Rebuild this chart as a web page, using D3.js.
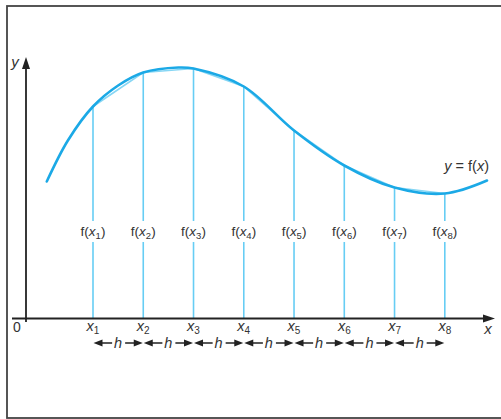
<!DOCTYPE html>
<html>
<head>
<meta charset="utf-8">
<script src="https://cdn.jsdelivr.net/npm/d3@7"></script>
<style>
  body { margin:0; background:#fff; }
  svg text { font-family: "Liberation Sans", Arial, sans-serif; fill:#333; }
</style>
</head>
<body>
<script>
const width = 501;
const height = 419;

// ordinates x1..x8 (in units of h) and the curve f(x)
const knots = [1, 2, 3, 4, 5, 6, 7, 8];
const knotValues = [21.2, 24.6, 25.0, 23.2, 18.8, 15.3, 13.1, 12.5];
const curveX = [0.08, 0.5, 1, 1.5, 2, 2.7, 3, 4, 5, 6, 7, 8, 8.84];
const curveY = [13.7, 17.8, 21.2, 23.3, 24.6, 25.1, 25.0, 23.2, 18.8, 15.3, 13.1, 12.5, 13.8];

const svg = d3.select('body').append('svg')
  .attr('width', width)
  .attr('height', height);

// frame
svg.append('rect')
  .attr('x', 7).attr('y', 6)
  .attr('width', 520).attr('height', 412)
  .attr('fill', 'none').attr('stroke', '#444').attr('stroke-width', 1.8);

const x = d3.scaleLinear().domain([1, 8]).range([93, 444.8]);
const y = d3.scaleLinear().domain([0, 26]).range([318.5, 58.5]);

const axisX0 = 26;
const axisY0 = y(0);

// vertical ordinates
svg.selectAll('line.ord').data(knots)
  .enter().append('line')
  .attr('class', 'ord')
  .attr('x1', d => x(d)).attr('x2', d => x(d))
  .attr('y1', axisY0).attr('y2', (d, i) => y(knotValues[i]))
  .attr('stroke', '#66cdf4').attr('stroke-width', 1.6);

// chords
svg.append('path')
  .datum(knots)
  .attr('d', d3.line().x(d => x(d)).y((d, i) => y(knotValues[i])))
  .attr('fill', 'none').attr('stroke', '#86d6f4').attr('stroke-width', 1.6);

// curve
svg.append('path')
  .datum(curveX)
  .attr('d', d3.line().x(d => x(d)).y((d, i) => y(curveY[i])).curve(d3.curveCatmullRom.alpha(0.5)))
  .attr('fill', 'none').attr('stroke', '#1ba9e6').attr('stroke-width', 2.6)
  .attr('stroke-linecap', 'round');

// axes
svg.append('line')
  .attr('x1', 12).attr('x2', 486)
  .attr('y1', axisY0).attr('y2', axisY0)
  .attr('stroke', '#222').attr('stroke-width', 1.8);
svg.append('path')
  .attr('d', `M495,${axisY0} L483,${axisY0 - 4} L483,${axisY0 + 4} Z`)
  .attr('fill', '#222');
svg.append('line')
  .attr('x1', axisX0).attr('x2', axisX0)
  .attr('y1', 322).attr('y2', 66)
  .attr('stroke', '#222').attr('stroke-width', 1.8);
svg.append('path')
  .attr('d', `M${axisX0},57 L${axisX0 - 4},69 L${axisX0 + 4},69 Z`)
  .attr('fill', '#222');

svg.append('text').text('0')
  .attr('x', 17).attr('y', 332).attr('text-anchor', 'middle').attr('font-size', 14);
svg.append('text').text('x')
  .attr('x', 488).attr('y', 334).attr('text-anchor', 'middle')
  .attr('font-size', 15).attr('font-style', 'italic');
svg.append('text').text('y')
  .attr('x', 15).attr('y', 67).attr('text-anchor', 'middle')
  .attr('font-size', 15).attr('font-style', 'italic');

// y = f(x) label
const lab = svg.append('text')
  .attr('x', 489).attr('y', 171).attr('text-anchor', 'end').attr('font-size', 14.5);
lab.append('tspan').text('y').attr('font-style', 'italic');
lab.append('tspan').text(' = f(');
lab.append('tspan').text('x').attr('font-style', 'italic');
lab.append('tspan').text(')');

// f(xi) labels with white backing
const fl = svg.selectAll('g.flab').data(knots)
  .enter().append('g')
  .attr('class', 'flab')
  .attr('transform', d => `translate(${x(d)},0)`);
fl.append('rect')
  .attr('x', -16).attr('y', 221).attr('width', 32).attr('height', 21)
  .attr('fill', '#fff');
const ft = fl.append('text')
  .attr('y', 235.5).attr('text-anchor', 'middle').attr('font-size', 13.5);
ft.append('tspan').text('f(');
ft.append('tspan').text('x').attr('font-style', 'italic');
ft.append('tspan').text(d => d).attr('font-size', 9.5).attr('dy', 3);
ft.append('tspan').text(')').attr('dy', -3);

// xi labels
const xt = svg.selectAll('text.xlab').data(knots)
  .enter().append('text')
  .attr('class', 'xlab')
  .attr('x', d => x(d)).attr('y', 331)
  .attr('text-anchor', 'middle').attr('font-size', 14.5);
xt.append('tspan').text('x').attr('font-style', 'italic');
xt.append('tspan').text(d => d).attr('font-size', 10).attr('dy', 3);

// h spacing arrows
const hy = 343;
const gaps = knots.slice(0, -1);
const hg = svg.selectAll('g.h').data(gaps)
  .enter().append('g').attr('class', 'h');
hg.append('path')
  .attr('d', d => {
    const a = x(d), b = x(d + 1), m = (a + b) / 2;
    return `M${a + 8},${hy} L${m - 6},${hy} M${m + 7},${hy} L${b - 8},${hy}`;
  })
  .attr('stroke', '#222').attr('stroke-width', 1.4);
hg.append('path')
  .attr('d', d => {
    const a = x(d) + 0.5, b = x(d + 1) - 0.5;
    return `M${a},${hy} L${a + 9},${hy - 3.5} L${a + 9},${hy + 3.5} Z M${b},${hy} L${b - 9},${hy - 3.5} L${b - 9},${hy + 3.5} Z`;
  })
  .attr('fill', '#222');
hg.append('text').text('h')
  .attr('x', d => (x(d) + x(d + 1)) / 2).attr('y', hy + 5)
  .attr('text-anchor', 'middle').attr('font-size', 14.5).attr('font-style', 'italic');
</script>
</body>
</html>
